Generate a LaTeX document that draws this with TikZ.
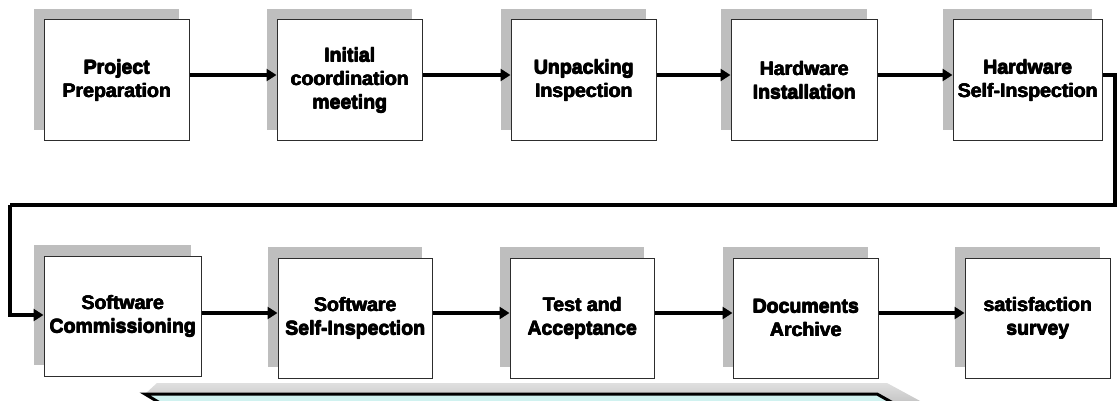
\documentclass[tikz,border=0pt]{standalone}
\usepackage{fontspec}
\newfontfamily\boxfont{Liberation Sans}
\usetikzlibrary{arrows.meta,shadows}

% heavier lettering: each line is printed a few times with tiny offsets
\newcommand\hvy[1]{%
  \makebox[0pt][l]{\kern0.6pt#1}%
  \makebox[0pt][l]{\raisebox{0.5pt}{#1}}%
  \makebox[0pt][l]{\kern0.6pt\raisebox{0.5pt}{#1}}%
  #1}

\definecolor{shadegray}{RGB}{190,190,190}
\definecolor{framegray}{RGB}{45,45,45}
\definecolor{bandcyan}{RGB}{208,242,240}

\tikzset{
  stepbox/.style={draw=framegray, line width=1pt, fill=white,
    minimum height=121pt, inner sep=2pt, align=center,
    font=\boxfont\bfseries\fontsize{19.5}{23.5}\selectfont,
    drop shadow={shadow xshift=-10.5pt, shadow yshift=11pt,
                 fill=shadegray, opacity=1}},
  flow/.style={line width=3.2pt, -{Triangle[length=10pt,width=12pt]}},
  route/.style={line width=3.2pt},
}

\begin{document}
\begin{tikzpicture}[x=1pt,y=-1pt]
\useasboundingbox (0,0) rectangle (1117,401);

% upper row of steps
\node[stepbox, minimum width=145pt] (b1) at (116.5,80.5) {\hvy{Project}\\\hvy{Preparation}};
\node[stepbox, minimum width=145pt] (b2) at (349.5,80.5) {\hvy{Initial}\\\hvy{coordination}\\\hvy{meeting}};
\node[stepbox, minimum width=145pt] (b3) at (583.5,80.5) {\hvy{Unpacking}\\\hvy{Inspection}};
\node[stepbox, minimum width=146pt] (b4) at (804,80.5) {\hvy{Hardware}\\\hvy{Installation}};
\node[stepbox, minimum width=149pt] (b5) at (1027.5,80.5) {\hvy{Hardware}\\\hvy{Self-Inspection}};

% lower row of steps
\node[stepbox, minimum width=157pt, minimum height=120pt] (b6) at (122.5,316) {\hvy{Software}\\\hvy{Commissioning}};
\node[stepbox, minimum width=154pt, minimum height=120pt] (b7) at (355,318) {\hvy{Software}\\\hvy{Self-Inspection}};
\node[stepbox, minimum width=144pt, minimum height=120pt] (b8) at (582,318) {\hvy{Test and}\\\hvy{Acceptance}};
\node[stepbox, minimum width=145pt, minimum height=120pt] (b9) at (805.5,318) {\hvy{Documents}\\\hvy{Archive}};
\node[stepbox, minimum width=145pt, minimum height=120pt] (b10) at (1037.5,318) {\hvy{satisfaction}\\\hvy{survey}};

% arrows along the upper row
\draw[flow] ([yshift=5.5pt]b1.east) -- ([yshift=5.5pt]b2.west);
\draw[flow] ([yshift=5.5pt]b2.east) -- ([yshift=5.5pt]b3.west);
\draw[flow] ([yshift=5.5pt]b3.east) -- ([yshift=5.5pt]b4.west);
\draw[flow] ([yshift=5.5pt]b4.east) -- ([yshift=5.5pt]b5.west);

% return line from the end of the upper row to the start of the lower row
\coordinate (turnR) at (1115,205);
\coordinate (turnL) at (10,205);
\draw[route] ([yshift=5.5pt]b5.east) -| (turnR) -- (turnL);
\draw[flow] (turnL) |- ([yshift=1pt]b6.west);

% arrows along the lower row
\coordinate (lowin) at ([yshift=5pt]b7.west);
\draw[flow] (b6.east |- lowin) -- (lowin);
\draw[flow] ([yshift=5pt]b7.east) -- ([yshift=5pt]b8.west);
\draw[flow] ([yshift=5pt]b8.east) -- ([yshift=5pt]b9.west);
\draw[flow] ([yshift=5pt]b9.east) -- ([yshift=5pt]b10.west);

% raised banner along the bottom edge
\shade[top color=gray!25, bottom color=gray!45]
  (157,383) -- (887,383) -- (922,402) -- (891,402) -- (877,394) -- (145,394) -- cycle;
\fill[bandcyan] (145,394) -- (877,394) -- (893,403) -- (160,403) -- cycle;
\draw[line width=3pt] (160,403) -- (145,394) -- (877,394) -- (893,403);
\end{tikzpicture}
\end{document}
